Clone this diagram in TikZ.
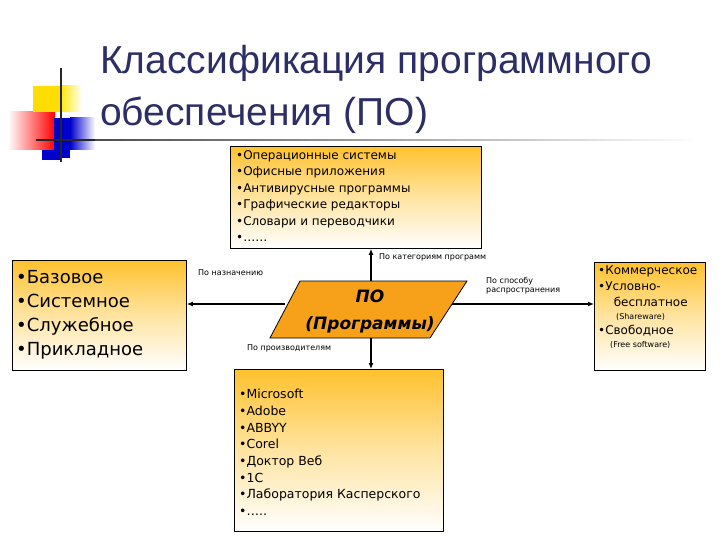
\documentclass[tikz,border=0pt]{standalone}
\usepackage{fontspec}
\setmainfont{DejaVu Sans}
\newfontfamily\ttlfont{Liberation Sans}
\usetikzlibrary{shapes.geometric,arrows.meta}
\definecolor{ttl}{HTML}{2E2E66}
\definecolor{boxy}{HTML}{FFC22E}
\definecolor{par}{HTML}{F7A11A}
\tikzset{
 gbox/.style={draw=black,line width=0.8pt,top color=boxy,bottom color=white,middle color=boxy!45!white},
 lbl/.style={font=\fontsize{8}{9}\selectfont,align=left,inner sep=0pt},
 conn/.style={line width=1.2pt,-{Latex[length=6pt,width=5pt]}},
 ttlstyle/.style={anchor=base west,inner sep=0,text=ttl,font=\ttlfont\fontsize{39}{42}\selectfont},
}
\begin{document}
\begin{tikzpicture}[x=1pt,y=-1pt]
\useasboundingbox (0,0) rectangle (720,540);
% decoration
\fill[left color=white,right color=red] (8,112) rectangle (55,150);
\fill[yellow!80!orange] (33,86) rectangle (60,112);
\fill[left color=yellow!80!orange,right color=white] (60,86) rectangle (82,112);
\fill[blue!80!black] (54,118) rectangle (70,158);
\fill[left color=blue!80!black,right color=white] (70,118) rectangle (95,150);
\fill[blue!80!black] (42,150) rectangle (60,160);
\draw[line width=1.5pt,black!85] (61,68) -- (61,162);
\draw[line width=1.5pt,black!85] (36,140) -- (95,140);
\fill[left color=black!70,right color=white] (95,139.3) rectangle (700,140.7);
% title
\node[ttlstyle] (t1) at (100,74) {Классификация программного};
\node[ttlstyle] (t2) at (100,126) {обеспечения (ПО)};
% boxes
\node[gbox,minimum width=251,minimum height=102,anchor=north west] (top) at (230,146) {};
\node[anchor=north west,align=left,inner sep=0,font=\fontsize{12}{16.5}\selectfont] at (236,150) {•Операционные системы\\•Офисные приложения\\•Антивирусные программы\\•Графические редакторы\\•Словари и переводчики\\•……};
\node[gbox,minimum width=174,minimum height=110,anchor=north west] (lft) at (12,260) {};
\node[anchor=north west,align=left,inner sep=0,font=\fontsize{18}{24}\selectfont] at (16,270) {•Базовое\\•Системное\\•Служебное\\•Прикладное};
\node[gbox,minimum width=111,minimum height=108,anchor=north west] (rgt) at (594,262) {};
\node[anchor=north west,align=left,inner sep=0,font=\fontsize{12}{17}\selectfont] at (598,266) {•Коммерческое\\[-1pt]•Условно-\\[-1pt]\hspace{1.3em}бесплатное\\[-4pt]\hspace{1.5em}{\fontsize{8}{10}\selectfont (Shareware)}\\[-2pt]•Свободное\\[-4pt]\hspace{1em}{\fontsize{8}{10}\selectfont (Free software)}};
\node[gbox,minimum width=209,minimum height=162,anchor=north west] (bot) at (234,369) {};
\node[anchor=north west,align=left,inner sep=0,font=\fontsize{12.5}{16.7}\selectfont] at (239,389) {•Microsoft\\•Adobe\\•ABBYY\\•Corel\\•Доктор Веб\\•1С\\•Лаборатория Касперского\\•…..};
% parallelogram
\fill[par,draw=black,line width=0.8pt] (300,281) -- (467,281) -- (430,338) -- (270,338) -- cycle;
\node[font=\bfseries\itshape\fontsize{17}{27}\selectfont,align=center] (po) at (370,311) {ПО\\(Программы)};
% connectors
\draw[conn] (371,281) -- (top.south -| 371,0);
\draw[conn] (371,338) -- (bot.north -| 371,0);
\draw[conn] (452,304) -- (rgt.west |- 0,304);
\draw[conn] (285,304) -- (lft.east |- 0,304);
% labels
\node[lbl,anchor=west] at (379,257) {По категориям программ};
\node[lbl,anchor=west] at (198,273) {По назначению};
\node[lbl,anchor=west] at (486,286) {По способу\\распространения};
\node[lbl,anchor=west] at (247,348) {По производителям};
\end{tikzpicture}
\end{document}
